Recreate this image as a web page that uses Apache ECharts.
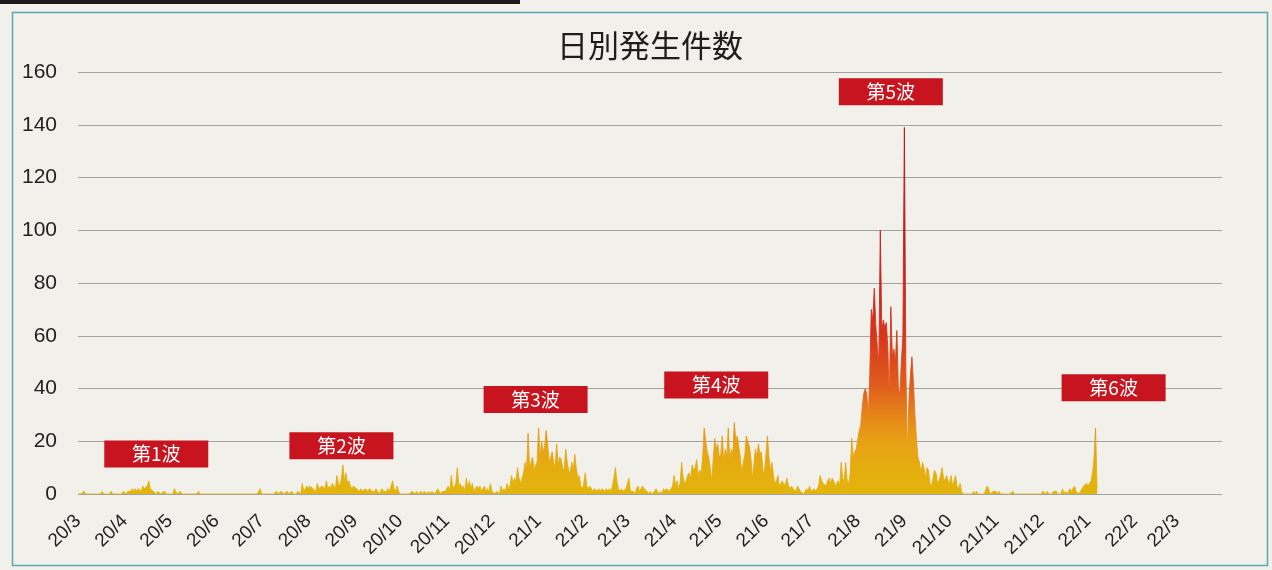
<!DOCTYPE html>
<html>
<head>
<meta charset="utf-8">
<script src="https://cdn.jsdelivr.net/npm/echarts@6/dist/echarts.min.js"></script>
<style>html,body{margin:0;padding:0;background:#f1f0ea;}#c{width:1272px;height:570px;}</style>
</head>
<body>
<div id="c"></div>
<script>
// ---- data: daily case counts, one array per month (day 1 .. end) ----
const m2003 = [0,0,0,0,1, 0,0,0,0,0, 0,0,0,0,0, 0,1,0,0,0, 0,0,1,0,0, 0,0,0,0,0, 1];
const m2004 = [1,0,1,1,1, 2,1,2,1,2, 2,1,3,2,2, 3,5,2,2,1, 1,0,1,1,0, 0,1,1,0,0];
const m2005 = [0,0,0,2,1, 0,0,1,0,0, 0,0,0,0,0, 0,0,0,0,1, 0,0,0,0,0, 0,0,0,0,0, 0];
const m2006 = [0,0,0,0,0, 0,0,0,0,0, 0,0,0,0,0, 0,0,0,0,0, 0,0,0,0,0, 0,0,0,1,2];
const m2007 = [0,0,0,0,0, 0,0,0,0,0, 1,0,0,1,1, 0,0,1,0,0, 1,0,0,0,1, 1,0,4,1,2, 3];
const m2008 = [2,3,3,2,2, 1,4,2,2,3, 3,2,5,2,3, 2,4,3,2,7, 4,3,6,11,5, 8,4,5,3,2, 3];
const m2009 = [3,2,2,1,2, 1,1,2,1,1, 2,1,1,1,2, 1,0,1,2,1, 1,1,2,1,3, 5,2,1,3,1];
const m2010 = [0,0,0,0,0, 0,0,0,1,1, 0,1,0,0,1, 0,1,1,0,1, 0,1,1,0,1, 2,1,0,1,1, 1];
const m2011 = [2,3,1,7,2, 3,4,10,3,4, 2,3,1,6,2, 5,2,4,1,2, 3,2,3,1,2, 3,1,2,1,4];
const m2012 = [1,1,0,1,1, 0,3,1,2,1, 4,2,3,7,4, 6,5,10,6,4, 6,8,12,9,23, 10,12,14,9,11, 12];
const m2101 = [25,14,20,16,18, 24,19,12,14,16, 12,10,19,11,14, 13,10,9,17,12, 9,8,12,9,15, 10,6,7,3,2, 4];
const m2102 = [8,3,2,3,2, 1,2,2,1,2, 1,2,2,1,2, 1,2,1,3,6, 10,5,2,1,2, 1,1,2];
const m2103 = [2,6,1,1,1, 0,2,3,1,2, 3,2,2,1,0, 1,0,0,1,2, 1,0,1,0,2, 1,2,2,1,2, 3];
const m2104 = [7,3,5,2,4, 12,6,4,5,7, 8,6,11,9,10, 13,7,9,8,14, 25,20,16,14,10, 5,13,21,17,19];
const m2105 = [14,15,22,12,17, 14,25,13,17,15, 27,20,22,18,14, 8,12,15,22,20, 18,14,6,11,17, 14,19,15,16,9, 8];
const m2106 = [15,22,14,9,12, 7,4,5,7,3, 4,5,3,4,6, 3,2,3,2,2, 1,3,2,1,1, 0,1,2,1,3];
const m2107 = [1,1,2,1,1, 3,7,5,4,4, 3,5,6,4,6, 5,3,4,5,3, 12,6,5,12,5, 4,8,21,14,16, 17];
const m2108 = [17,24,26,33,38, 40,38,29,45,70, 66,78,64,56,50, 100,62,66,63,65, 55,36,71,52,55, 50,62,40,38,50, 60];
const m2109 = [139,46,16,35,45, 52,42,30,21,14, 12,8,12,10,6, 10,9,4,3,6, 9,8,4,5,7, 10,6,5,7,5];
const m2110 = [4,7,3,5,7, 3,2,4,1,0, 0,0,0,0,0, 0,1,0,1,0, 0,0,0,0,0, 3,2,0,0,1, 1];
const m2111 = [1,0,1,0,0, 0,0,0,0,0, 0,1,0,0,0, 0,0,0,0,0, 0,0,0,0,0, 0,0,0,0,0];
const m2112 = [0,1,1,0,1, 0,0,0,1,1, 1,0,0,0,2, 0,1,0,1,2, 1,1,3,1,1, 0,1,2,3,3, 4];
const m2201 = [3,3,5,8,14,25,2];

const months = [
  ['2020-03', m2003], ['2020-04', m2004], ['2020-05', m2005], ['2020-06', m2006],
  ['2020-07', m2007], ['2020-08', m2008], ['2020-09', m2009], ['2020-10', m2010],
  ['2020-11', m2011], ['2020-12', m2012], ['2021-01', m2101], ['2021-02', m2102],
  ['2021-03', m2103], ['2021-04', m2104], ['2021-05', m2105], ['2021-06', m2106],
  ['2021-07', m2107], ['2021-08', m2108], ['2021-09', m2109], ['2021-10', m2110],
  ['2021-11', m2111], ['2021-12', m2112], ['2022-01', m2201]
];

const yTicks = [0, 20, 40, 60, 80, 100, 120, 140, 160];

const waveNames  = ['第1波', '第2波', '第3波', '第4波', '第5波', '第6波'];
const waveDates  = ['2020-04-22', '2020-08-23', '2020-12-30', '2021-04-29', '2021-08-23', '2022-01-18'];
const waveLevels = [15.2, 18.3, 35.8, 41.3, 152.5, 40.3];

// ---- axis categories: every day from 2020-03-01 to 2022-03-31 ----
const dates = [];
for (let t = Date.UTC(2020, 2, 1); t <= Date.UTC(2022, 2, 31); t += 86400000) {
  dates.push(new Date(t).toISOString().slice(0, 10));
}
const dateIndex = {};
dates.forEach((d, i) => { dateIndex[d] = i; });

let lastIdx = 0;
const values = [];
months.forEach(([ym, arr]) => {
  const start = dateIndex[ym + '-01'];
  arr.forEach((v, i) => { values[start + i] = v; lastIdx = Math.max(lastIdx, start + i); });
});
const seriesData = [];
for (let i = 0; i <= lastIdx; i++) seriesData.push(values[i] == null ? 0 : values[i]);

const chart = echarts.init(document.getElementById('c'), null, { renderer: 'canvas' });

const grad = () => new echarts.graphic.LinearGradient(0, 0, 0, 1, [
  { offset: 0,     color: '#be101e' },
  { offset: 0.28,  color: '#c8191d' },
  { offset: 0.424, color: '#cf241c' },
  { offset: 0.568, color: '#d6361b' },
  { offset: 0.64,  color: '#dc4a1c' },
  { offset: 0.712, color: '#e0601c' },
  { offset: 0.784, color: '#e6841a' },
  { offset: 0.856, color: '#e8a115' },
  { offset: 0.928, color: '#e5ad10' },
  { offset: 1,     color: '#e2b50c' }
]);

chart.setOption({
  backgroundColor: '#f1f0ea',
  animation: false,
  title: {
    text: '日別発生件数',
    left: 645,
    top: 25,
    textAlign: 'center',
    textStyle: { fontFamily: '"Noto Sans CJK JP", sans-serif', fontSize: 31, fontWeight: 'normal', color: '#1e1e1e' }
  },
  grid: { left: 78, right: 50, top: 72, bottom: 76, containLabel: false },
  xAxis: {
    type: 'category',
    data: dates,
    boundaryGap: false,
    axisLine: { show: false },
    axisTick: { show: false },
    splitLine: { show: false },
    axisLabel: {
      interval: (idx, val) => val.slice(8) === '01',
      formatter: (val) => val.slice(2, 4) + '/' + parseInt(val.slice(5, 7), 10),
      rotate: 45,
      margin: 24,
      fontFamily: '"Liberation Sans", sans-serif',
      fontSize: 19,
      color: '#222'
    }
  },
  yAxis: {
    type: 'value',
    min: yTicks[0],
    max: yTicks[yTicks.length - 1],
    interval: 20,
    axisLine: { show: false },
    axisTick: { show: false },
    splitLine: { lineStyle: { color: '#a2a2a2', width: 1.2 } },
    axisLabel: {
      margin: 21,
      fontFamily: '"Liberation Sans", sans-serif',
      fontSize: 21,
      color: '#222'
    }
  },
  series: [{
    type: 'line',
    data: seriesData,
    showSymbol: false,
    symbol: 'none',
    lineStyle: { width: 0.9, color: grad() },
    areaStyle: { color: grad(), opacity: 1 },
    markPoint: {
      silent: true,
      symbol: 'rect',
      symbolSize: [104, 27],
      itemStyle: { color: '#c8141e' },
      label: {
        show: true,
        position: 'inside',
        color: '#ffffff',
        fontFamily: '"Noto Sans CJK JP", sans-serif',
        fontSize: 19,
        formatter: (p) => p.name
      },
      data: waveNames.map((n, i) => ({ name: n, coord: [waveDates[i], waveLevels[i]] }))
    }
  }],
  graphic: [
    { type: 'rect', left: 0, top: 0, shape: { width: 520, height: 4 }, style: { fill: '#1c1c1c' }, silent: true },
    { type: 'rect', shape: { x: 12.5, y: 12.5, width: 1255, height: 553 }, style: { fill: 'none', stroke: '#5aa6b6', lineWidth: 1.5 }, silent: true, z: -1 }
  ]
});
</script>
</body>
</html>
